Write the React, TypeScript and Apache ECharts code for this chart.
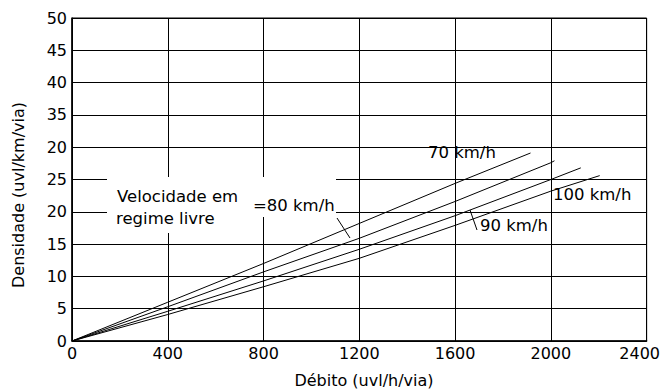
import React, { useEffect, useRef } from "react";
import * as echarts from "echarts";

// Flow (uvl/h/via) and density (uvl/km/via)
const flow70 = [0, 400, 800, 1200, 1600, 1915];
const dens70 = [0, 6.0, 12.0, 18.2, 24.4, 29.1];
const flow80 = [0, 400, 800, 1200, 1600, 2000, 2015];
const dens80 = [0, 5.3, 10.7, 15.9, 21.6, 27.6, 27.9];
const flow90 = [0, 400, 800, 1200, 1600, 2000, 2125];
const dens90 = [0, 4.6, 9.3, 14.2, 19.4, 25.0, 26.8];
const flow100 = [0, 400, 800, 1200, 1600, 2000, 2204];
const dens100 = [0, 4.1, 8.4, 12.8, 17.9, 23.2, 25.6];

const yTickLabels = ["0", "5", "10", "15", "20", "25", "20", "35", "40", "45", "50"];
const xTickLabels = ["0", "400", "800", "1200", "1600", "2000", "2400"];
const xTitle = "Débito (uvl/h/via)";
const yTitle = "Densidade (uvl/km/via)";
const speedLabels = ["70 km/h", "=80 km/h", "90 km/h", "100 km/h"];
const freeLabel = ["Velocidade em", "regime livre"];

const FONT = "DejaVu Sans";

export default function App() {
  const ref = useRef<HTMLDivElement>(null);
  useEffect(() => {
    if (!ref.current) return;
    const chart = echarts.init(ref.current, null, { renderer: "svg" });
    const mk = (f: number[], d: number[]) => ({
      type: "line",
      showSymbol: false,
      silent: true,
      lineStyle: { color: "#000", width: 1 },
      data: f.map((q, i) => [q, d[i]]),
    });
    const txt = (text: string, x: number, y: number, extra: any = {}) => ({
      type: "text",
      x,
      y,
      z: 20,
      style: {
        text,
        fill: "#000",
        font: `16.5px "${FONT}"`,
        textAlign: "left",
        textVerticalAlign: "middle",
        ...extra,
      },
    });
    chart.setOption({
      animation: false,
      backgroundColor: "#fff",
      grid: { left: 72, right: 15, top: 18, bottom: 48, show: true, borderColor: "#000", borderWidth: 1 },
      xAxis: {
        type: "value",
        min: 0,
        max: 2400,
        interval: 400,
        axisLine: { lineStyle: { color: "#000", width: 1.5 } },
        axisTick: { show: false },
        splitLine: { lineStyle: { color: "#000", width: 1 } },
        axisLabel: {
          color: "#000",
          fontSize: 16,
          fontFamily: FONT,
          margin: 4,
          formatter: (v: number) => {
            const i = Math.round(v / 400);
            return i === xTickLabels.length - 1 ? `{last|${xTickLabels[i]}}` : xTickLabels[i];
          },
          rich: { last: { fontSize: 16, fontFamily: FONT, color: "#000", padding: [0, 14, 0, 0] } },
        },
      },
      yAxis: {
        type: "value",
        min: 0,
        max: 50,
        interval: 5,
        axisLine: { show: true, lineStyle: { color: "#000", width: 1.5 } },
        axisTick: { show: false },
        splitLine: { lineStyle: { color: "#000", width: 1 } },
        axisLabel: {
          color: "#000",
          fontSize: 16,
          fontFamily: FONT,
          margin: 5,
          formatter: (v: number) => yTickLabels[Math.round(v / 5)],
        },
      },
      series: [mk(flow70, dens70), mk(flow80, dens80), mk(flow90, dens90), mk(flow100, dens100)],
      graphic: [
        { type: "rect", z: 15, shape: { x: 107, y: 177, width: 146, height: 56 }, style: { fill: "#fff" } },
        { type: "rect", z: 15, shape: { x: 253, y: 177, width: 83, height: 40 }, style: { fill: "#fff" } },
        txt(freeLabel[0], 117, 196),
        txt(freeLabel[1], 116, 218),
        txt(speedLabels[0], 428, 152),
        txt(speedLabels[1], 253, 205),
        txt(speedLabels[2], 480, 225),
        txt(speedLabels[3], 553, 194),
        { type: "line", z: 20, shape: { x1: 337, y1: 218, x2: 350, y2: 238 }, style: { stroke: "#000", lineWidth: 1 } },
        { type: "line", z: 20, shape: { x1: 470, y1: 210, x2: 477, y2: 230 }, style: { stroke: "#000", lineWidth: 1 } },
        txt(xTitle, 364, 380, { textAlign: "center", font: `16px "${FONT}"` }),
        {
          type: "text",
          x: 18,
          y: 195,
          rotation: Math.PI / 2,
          z: 20,
          style: {
            text: yTitle,
            fill: "#000",
            font: `16px "${FONT}"`,
            textAlign: "center",
            textVerticalAlign: "middle",
          },
        },
      ],
    });
    return () => chart.dispose();
  }, []);
  return (
    <div
      ref={ref}
      style={{ position: "fixed", left: 0, top: 0, width: 663, height: 389, background: "#fff" }}
    />
  );
}
